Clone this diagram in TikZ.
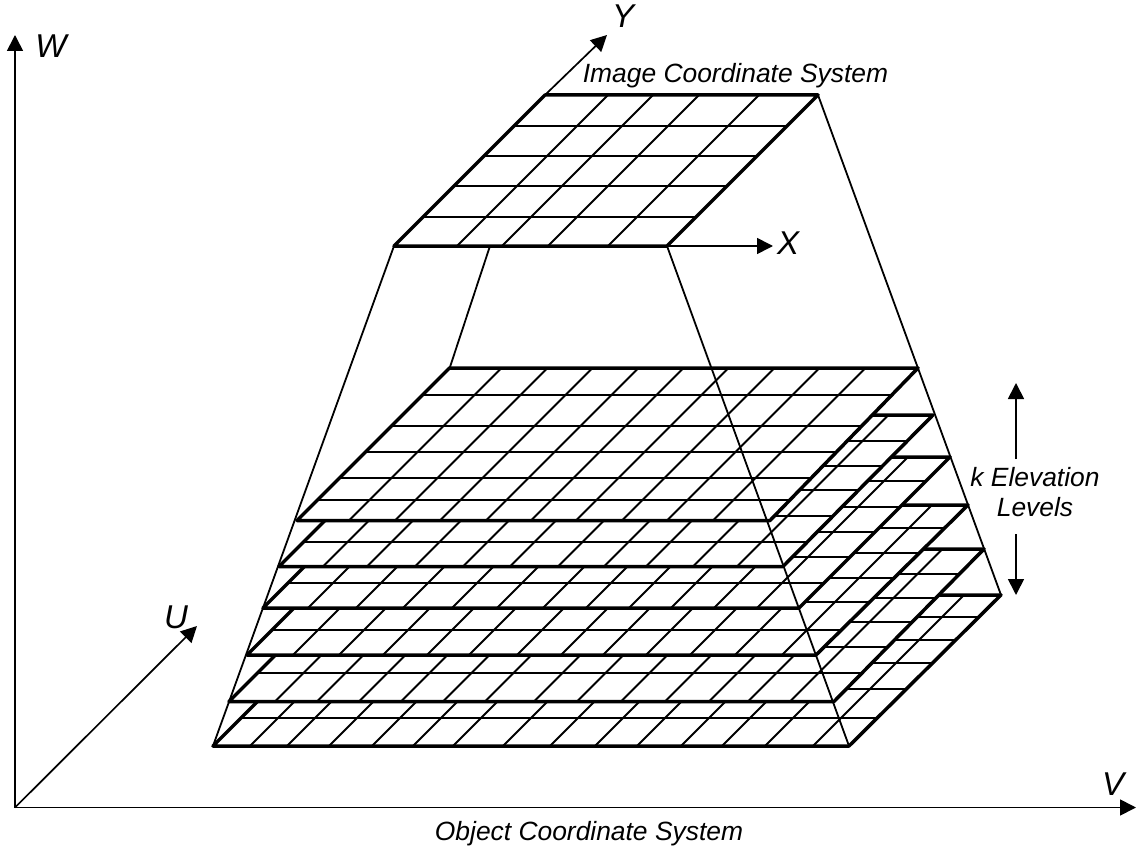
\documentclass[tikz,border=0pt]{standalone}
\usepackage{fontspec}
\setmainfont{Liberation Sans}
\usetikzlibrary{arrows.meta}
\tikzset{
  thinl/.style={line width=1.8pt,black},
  thickl/.style={line width=3.5pt,black,line join=round},
  axis/.style={line width=1.7pt,black,-{Triangle[length=16pt,width=16pt]}},
  biglabel/.style={anchor=base,inner sep=0pt,font=\fontsize{33}{36}\selectfont\itshape},
  smalllabel/.style={anchor=base,inner sep=0pt,font=\fontsize{26.4}{30}\selectfont\itshape}
}
% yb, xbl, xbr, yt, xtr, horizontals, slanted foot positions
\newcommand{\gridplane}[7]{%
  \pgfmathsetmacro{\pdx}{#5-#3}%
  \pgfmathsetmacro{\pdy}{#1-#4}%
  \pgfmathsetmacro{\ptl}{#2+\pdy}%
  \fill[white] (#2,#1) -- (#3,#1) -- (#5,#4) -- (\ptl,#4) -- cycle;
  \foreach \hy in {#6}{%
    \pgfmathsetmacro{\hs}{(#1-\hy)/\pdy*\pdx}%
    \pgfmathsetmacro{\hl}{#1-\hy}%
    \draw[thinl] ({#2+\hl},\hy) -- ({#3+\hs},\hy);
  }
  \foreach \sx in {#7}{%
    \draw[thinl] (\sx,#1) -- ({\sx+\pdy},#4);
  }
  \draw[thickl] (#2,#1) -- (#3,#1) -- (#5,#4) -- (\ptl,#4) -- cycle;
}
\begin{document}
\begin{tikzpicture}[x=1pt,y=-1pt]
\path[use as bounding box] (0,0) rectangle (1136,848);
\coordinate (O) at (15,807.5);
\coordinate (Wtip) at (15,35);
\coordinate (Vtip) at (1136,807.5);
\coordinate (Utip) at (197,626);
\coordinate (imgBL) at (394,246);
\coordinate (imgBR) at (667,246);
\coordinate (imgTR) at (818,95);
\coordinate (imgTL) at (545,95);
\coordinate (imgM) at (490,246);
\coordinate (Ytip) at (607,35);
\coordinate (Xtip) at (773,246);
\coordinate (objBL) at (213,746);
\coordinate (objBR) at (849,746);
\coordinate (objTR) at (1001,595);
\coordinate (objM) at (450,367);
\coordinate (kUpA) at (1016,459);
\coordinate (kUpB) at (1016,383);
\coordinate (kDnA) at (1016,534);
\coordinate (kDnB) at (1016,595);

\draw[axis] (O) -- (Wtip);
\draw[axis] (O) -- (Vtip);
\draw[axis] (O) -- (Utip);

\gridplane{746}{213}{849}{595}{1001}{617,640,663,689,718}{250,287,329,372,413,453,503,550,595,637,681,722,765,813}
\gridplane{701.5}{229}{834}{549}{984}{574,598,622,647,673}{275,317,359,401,443,485,534,577,621,665,709,748,790}
\gridplane{655}{247}{816}{505}{968}{528,553,578,602,630}{293,339,383,427,469,517,561,603,646,690,735,782}
\gridplane{608}{263}{799}{457}{950}{481,507,532,557,583}{308,356,403,452,497,543,586,629,671,714,757}
\gridplane{566.5}{279}{783}{415}{933}{441,466,490,516,542}{323,367,415,463,510,558,604,646,693,737}
\gridplane{520.5}{297}{770}{368}{918}{395,426,452,478,500}{349,395,440,486,531,576,622,667,713}

\draw[thinl] (imgBL) -- (objBL);
\draw[thinl] (imgBR) -- (objBR);
\draw[thinl] (imgTR) -- (objTR);
\draw[thinl] (imgM) -- (objM);

\gridplane{246}{394}{667}{95}{818}{126,156,186,217}{457,502,548,608}

\draw[axis] (imgTL) -- (Ytip);
\draw[axis] (imgBR) -- (Xtip);
\draw[axis] (kUpA) -- (kUpB);
\draw[axis] (kDnA) -- (kDnB);

\node[biglabel] (lW) at (51,58) {W};
\node[biglabel] (lY) at (623,28) {Y};
\node[biglabel] (lX) at (788,254) {X};
\node[biglabel] (lU) at (176,628) {U};
\node[biglabel] (lV) at (1113,795) {V};
\node[smalllabel] (lImg) at (735.5,83) {Image Coordinate System};
\node[smalllabel] (lObj) at (589,840) {Object Coordinate System};
\node[smalllabel] (lK) at (1035,486) {k Elevation};
\node[smalllabel] (lL) at (1035,516) {Levels};
\end{tikzpicture}
\end{document}
